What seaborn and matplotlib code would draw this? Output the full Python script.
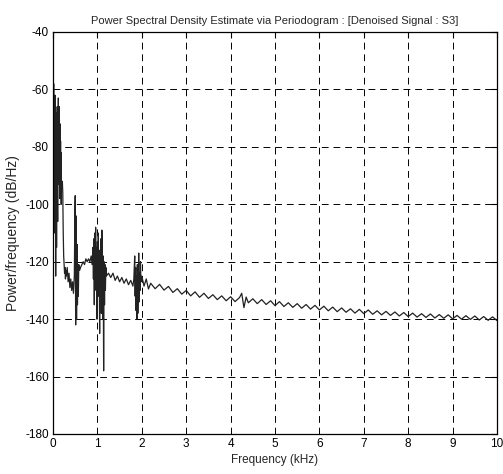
import matplotlib
matplotlib.use("Agg")
import matplotlib.pyplot as plt
import seaborn as sns
import pandas as pd

# ---- data ----
freq_low = [
    0.000, 0.005, 0.010, 0.015, 0.020, 0.025, 0.030, 0.035, 0.040, 0.045,
    0.050, 0.055, 0.060, 0.065, 0.070, 0.075, 0.080, 0.085, 0.090, 0.095,
    0.100, 0.105, 0.110, 0.115, 0.120, 0.125, 0.130, 0.135, 0.140, 0.145,
    0.150, 0.155, 0.160, 0.165, 0.170, 0.175, 0.180, 0.185, 0.190, 0.195,
    0.200, 0.210, 0.220, 0.230, 0.240, 0.250, 0.260, 0.270, 0.280, 0.290,
    0.300, 0.320, 0.340, 0.360, 0.380, 0.400, 0.420, 0.440, 0.460, 0.480,
    0.490, 0.500, 0.505, 0.510, 0.515, 0.520, 0.525, 0.530, 0.535, 0.540,
    0.545, 0.550, 0.560, 0.570, 0.580, 0.600, 0.620, 0.650, 0.680, 0.710,
    0.740, 0.770, 0.800, 0.830, 0.860, 0.880, 0.900, 0.910, 0.920, 0.930,
    0.940, 0.950, 0.960, 0.970, 0.980, 0.990, 1.000, 1.010, 1.020, 1.030,
    1.040, 1.050, 1.060, 1.070, 1.080, 1.090, 1.100, 1.110, 1.120, 1.130,
    1.140, 1.150, 1.160, 1.170, 1.180, 1.190, 1.200, 1.250, 1.300, 1.350,
    1.400, 1.450, 1.500, 1.550, 1.600, 1.650, 1.700, 1.750, 1.800, 1.820,
    1.840, 1.850, 1.860, 1.870, 1.880, 1.890, 1.900, 1.910, 1.920, 1.930,
    1.940, 1.950, 1.960, 1.970, 1.980, 2.000, 2.050, 2.100, 2.150, 2.200,
]
psd_low = [
    -172, -60, -85, -58, -95, -70, -110, -65, -88, -62,
    -100, -75, -125, -68, -92, -80, -115, -72, -96, -66,
    -84, -106, -74, -90, -63, -82, -70, -93, -66, -88,
    -75, -98, -72, -90, -78, -95, -82, -100, -92, -94,
    -93, -92, -96, -110, -118, -121, -124, -122, -126, -123,
    -125, -122, -127, -124, -129, -126, -130, -127, -131, -125,
    -108, -97, -125, -142, -104, -130, -110, -140, -118, -128,
    -114, -135, -124, -132, -121, -123, -122, -121, -120, -121,
    -119, -120, -119, -120, -118, -121, -115, -126, -112, -135,
    -110, -120, -108, -130, -115, -140, -113, -125, -110, -132,
    -116, -145, -118, -128, -112, -138, -109, -122, -140, -118,
    -158, -120, -135, -121, -130, -122, -125, -124, -125.5, -124,
    -126.5, -125, -127, -125.5, -127.5, -126, -128, -126.5, -128.5, -126,
    -118, -132, -122, -137, -125, -140, -121, -138, -129, -117,
    -134, -124, -130, -120, -127, -125, -128.5, -126, -129.5, -127.5,
]
freq_high = [
    2.3, 2.4, 2.5, 2.6, 2.7, 2.8, 2.9, 3.0, 3.1, 3.2,
    3.3, 3.4, 3.5, 3.6, 3.7, 3.8, 3.9, 4.0, 4.1, 4.2,
    4.25, 4.3, 4.35, 4.4, 4.5, 4.6, 4.7, 4.8, 4.9, 5.0,
    5.1, 5.2, 5.3, 5.4, 5.5, 5.6, 5.7, 5.8, 5.9, 6.0,
    6.1, 6.2, 6.3, 6.4, 6.5, 6.6, 6.7, 6.8, 6.9, 7.0,
    7.1, 7.2, 7.3, 7.4, 7.5, 7.6, 7.7, 7.8, 7.9, 8.0,
    8.1, 8.2, 8.3, 8.4, 8.5, 8.6, 8.7, 8.8, 8.9, 9.0,
    9.1, 9.2, 9.3, 9.4, 9.5, 9.6, 9.7, 9.8, 9.9, 10.0,
]
psd_high = [
    -129.4, -127.9, -129.9, -128.6, -130.7, -129.4, -131.3, -130.0, -131.9, -130.5,
    -132.4, -131.0, -132.8, -131.5, -133.2, -131.9, -133.6, -132.2, -133.9, -132.5,
    -131.0, -136.0, -132.3, -134.3, -132.9, -134.6, -133.2, -134.9, -133.6, -135.3,
    -133.9, -135.6, -134.3, -135.9, -134.6, -136.2, -134.9, -136.5, -135.2, -136.8,
    -135.5, -137.1, -135.8, -137.4, -136.1, -137.6, -136.4, -137.9, -136.6, -138.1,
    -136.8, -138.3, -137.1, -138.5, -137.3, -138.7, -137.5, -138.9, -137.7, -139.1,
    -137.9, -139.3, -138.1, -139.4, -138.2, -139.6, -138.4, -139.7, -138.5, -139.9,
    -138.7, -140.0, -138.8, -140.1, -138.9, -140.3, -139.1, -140.4, -139.2, -140.5,
]
x_ticks = [0, 1, 2, 3, 4, 5, 6, 7, 8, 9, 10]
y_ticks = [-180, -160, -140, -120, -100, -80, -60, -40]

title = "Power Spectral Density Estimate via Periodogram : [Denoised Signal : S3]"
xlabel = "Frequency (kHz)"
ylabel = "Power/frequency (dB/Hz)"

# ---- plot ----
sns.set_style("white")
plt.rcParams["font.family"] = ["Liberation Sans", "DejaVu Sans"]
plt.rcParams["axes.unicode_minus"] = False

df = pd.DataFrame({"freq": freq_low + freq_high, "psd": psd_low + psd_high})

fig = plt.figure(figsize=(5.03, 4.74), dpi=100)
ax = fig.add_axes([0.1054, 0.0844, 0.8827, 0.8481])

sns.lineplot(data=df, x="freq", y="psd", ax=ax, color="#222222",
             linewidth=0.9, estimator=None, sort=False)

ax.set_xlim(0, 10)
ax.set_ylim(-180, -40)
ax.set_xticks(x_ticks)
ax.set_yticks(y_ticks)
ax.set_xticklabels([str(t) for t in x_ticks])
ax.set_yticklabels([str(t) for t in y_ticks])
ax.grid(True, color="black", linestyle=(0, (7, 5)), linewidth=0.7)
ax.tick_params(direction="in", length=4, width=0.8, top=True, right=True,
               labelsize=8.5, colors="black", pad=3)
for s in ax.spines.values():
    s.set_color("black")
    s.set_linewidth(0.9)

ax.set_title(title, fontsize=8, pad=6)
ax.set_xlabel(xlabel, fontsize=8.5, labelpad=3)
ax.set_ylabel(ylabel, fontsize=10, labelpad=4)

fig.savefig("out.png", dpi=100, facecolor="white")
